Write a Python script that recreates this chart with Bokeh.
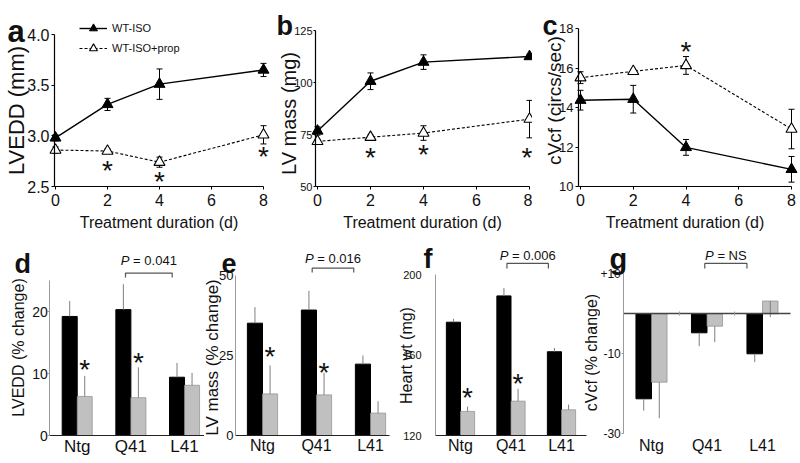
from math import pi
from bokeh.plotting import figure
from bokeh.layouts import row, column
from bokeh.models import (ColumnDataSource, Whisker, TeeHead, Legend, LegendItem,
                          Label, Range1d, FixedTicker, LinearAxis, PrintfTickFormatter)
from bokeh.core.properties import value
from bokeh.embed import file_html
from bokeh.resources import INLINE

FONT = "Liberation Sans"
TXT = "#111111"

# ---------------- data: time courses (panels a-c) ----------------
days = [0, 2, 4, 8]
day_ticks = [0, 2, 4, 6, 8]

lvedd_iso = [2.98, 3.31, 3.51, 3.65]
lvedd_iso_err = [0.03, 0.06, 0.15, 0.065]
lvedd_prop = [2.86, 2.85, 2.74, 3.01]
lvedd_prop_err = [0.03, 0.02, 0.05, 0.09]
lvedd_star_x = [2, 4, 8]
lvedd_star_y = [2.70, 2.59, 2.835]
lvedd_ticks = [2.5, 3.0, 3.5, 4.0]

lvmass_iso = [76.7, 100.6, 109.8, 112.5]
lvmass_iso_err = [2.0, 4.0, 3.5, 1.0]
lvmass_prop = [71.7, 73.7, 75.7, 82.4]
lvmass_prop_err = [1.0, 1.0, 3.5, 9.0]
lvmass_star_x = [2, 4, 7.9]
lvmass_star_y = [65.9, 67.5, 65.8]
lvmass_ticks = [50, 75, 100, 125]

cvcf_iso = [14.37, 14.42, 11.98, 10.87]
cvcf_iso_err = [0.5, 0.7, 0.4, 0.65]
cvcf_prop = [15.51, 15.83, 16.13, 12.91]
cvcf_prop_err = [0.3, 0.1, 0.45, 1.0]
cvcf_star_x = [4]
cvcf_star_y = [17.06]
cvcf_ticks = [10, 12, 14, 16, 18]

series_names = ["WT-ISO", "WT-ISO+prop"]

# ---------------- data: bar panels (d-g) ----------------
groups = ["Ntg", "Q41", "L41"]

d_iso = [19.2, 20.3, 9.4]
d_iso_err = [2.5, 4.1, 2.3]
d_prop = [6.3, 6.1, 8.1]
d_prop_err = [3.3, 4.9, 2.0]
d_star_y = [11.3, 12.4]
d_ticks = [0, 10, 20]

e_iso = [35.1, 39.2, 22.3]
e_iso_err = [5.0, 6.0, 2.7]
e_prop = [13.0, 12.7, 7.0]
e_prop_err = [8.9, 6.9, 3.7]
e_star_y = [26.0, 20.8]
e_ticks = [0, 25, 50]

f_iso = [176.4, 189.5, 161.7]
f_iso_err = [1.7, 4.0, 1.9]
f_prop = [132.0, 137.1, 132.8]
f_prop_err = [2.4, 6.1, 2.6]
f_star_y = [140.7, 148.0]
f_ticks = [120, 160, 200]

g_iso = [-21.25, -4.75, -10.0]
g_iso_err = [2.95, 3.35, 2.1]
g_prop = [-17.1, -3.1, 3.2]
g_prop_err = [9.0, 4.0, 4.05]
g_ticks = [-30, -10, 10]
g_tick_labels = ["-30", "-10", "+10"]

p_texts = ["0.041", "0.016", "0.006", "NS"]

TOP_H = 234
PAGE_H = 463


# ---------------- helpers ----------------
def lin(p0, v0, p1, v1, a, b):
    s = (v1 - v0) / (p1 - p0)
    return (v0 + (a - p0) * s, v0 + (b - p0) * s)


class Panel:
    def __init__(self, left, right, top, bottom, xmap, ymap):
        self.left, self.right, self.top, self.bottom = left, right, top, bottom
        xr = lin(*xmap, left, right)
        yr = lin(*ymap, bottom, top)
        self.x0 = xmap
        p = figure(width=right - left, height=bottom - top,
                   x_range=Range1d(*xr), y_range=Range1d(*yr),
                   output_backend="svg", toolbar_location=None, tools="",
                   min_border=0)
        p.outline_line_color = None
        p.xgrid.visible = False
        p.ygrid.visible = False
        p.background_fill_color = "white"
        p.border_fill_color = "white"
        p.axis.minor_tick_line_color = None
        p.axis.major_tick_in = 0
        p.axis.major_label_text_font = FONT
        p.axis.axis_label_text_font = FONT
        p.axis.major_label_text_color = TXT
        p.axis.axis_label_text_color = TXT
        p.axis.axis_label_text_font_style = "normal"
        self.p = p

    def xval(self, px):
        m = self.x0
        return m[1] + (px - m[0]) * (m[3] - m[1]) / (m[2] - m[0])

    def label(self, px, py, text, size, angle=0.0, bold=False, align="center",
              baseline="middle"):
        self.p.add_layout(Label(x=px - self.left, y=self.bottom - py,
                                x_units="screen", y_units="screen", text=text,
                                angle=angle, text_font=FONT, text_font_size=size,
                                text_font_style="bold" if bold else "normal",
                                text_color=TXT, text_align=align, text_baseline=baseline))

    def letter(self, px, py, text, size="27px"):
        self.label(px, py, text, size, bold=True, align="left", baseline="alphabetic")


def stars(p, xs, ys, size="28px", yoff=4):
    p.text(x=xs, y=ys, text=["*"] * len(xs), text_font=value(FONT),
           text_font_size=value(size), text_align="center",
           text_baseline="alphabetic", y_offset=yoff, text_color=TXT)


EM = {"P": 0.667, " ": 0.278, "=": 0.584, ".": 0.278, "N": 0.722, "S": 0.667}


def text_w(s, fs):
    return sum(EM.get(c, 0.556) for c in s) * fs


def bracket(p, x0, x1, y, leg, ytext, ptxt, fs=13):
    p.multi_line(xs=[[x0, x0, x1, x1]], ys=[[y - leg, y, y, y - leg]],
                 line_color="#555555", line_width=1.2)
    rest = "= " + ptxt
    wp = text_w("P", fs)
    ws = text_w(" ", fs)
    total = wp + ws + text_w(rest, fs)
    xc = (x0 + x1) / 2
    p.add_layout(Label(x=xc, y=ytext, text="P", x_offset=-total / 2, text_font=FONT,
                       text_font_size=f"{fs}px", text_font_style="italic", text_color=TXT,
                       text_align="left", text_baseline="middle"))
    p.add_layout(Label(x=xc, y=ytext, text=rest, x_offset=-total / 2 + wp + ws,
                       text_font=FONT, text_font_size=f"{fs}px", text_color=TXT,
                       text_align="left", text_baseline="middle"))


def time_panel(P, axis_px, ybase, ybounds, yticks, ytick_fs, iso, iso_err, prop, prop_err,
               sx, sy):
    p = P.p
    src = ColumnDataSource(dict(
        x=days, iso=iso, prop=prop,
        iso_hi=[v + e for v, e in zip(iso, iso_err)],
        iso_lo=[v - e for v, e in zip(iso, iso_err)],
        prop_hi=[v + e for v, e in zip(prop, prop_err)],
        prop_lo=[v - e for v, e in zip(prop, prop_err)]))
    for hi, lo in (("iso_hi", "iso_lo"), ("prop_hi", "prop_lo")):
        p.add_layout(Whisker(source=src, base="x", upper=hi, lower=lo,
                             line_color="black", line_width=1,
                             upper_head=TeeHead(size=6, line_color="black", line_width=1),
                             lower_head=TeeHead(size=6, line_color="black", line_width=1)))
    l1 = p.line("x", "iso", source=src, line_color="black", line_width=1.4)
    s1 = p.scatter("x", "iso", source=src, marker="triangle", size=11,
                   fill_color="black", line_color="black")
    l2 = p.line("x", "prop", source=src, line_color="black", line_width=1.1, line_dash="3 2")
    s2 = p.scatter("x", "prop", source=src, marker="triangle", size=11,
                   fill_color="white", line_color="black", line_width=1.1)
    stars(p, sx, sy)
    xa = P.xval(axis_px)
    p.xaxis.fixed_location = ybase
    p.xaxis.ticker = FixedTicker(ticks=day_ticks)
    p.xaxis.bounds = (xa, 8)
    p.yaxis.fixed_location = xa
    p.yaxis.ticker = FixedTicker(ticks=yticks)
    p.yaxis.bounds = ybounds
    p.axis.axis_line_color = "black"
    p.axis.axis_line_width = 1.2
    p.axis.major_tick_line_color = "black"
    p.axis.major_tick_out = 3
    p.xaxis.major_label_standoff = 4
    p.yaxis.major_label_standoff = 2
    p.xaxis.major_label_text_font_size = "16px"
    p.yaxis.major_label_text_font_size = ytick_fs
    p.xaxis.axis_label = "Treatment duration (d)"
    p.xaxis.axis_label_text_font_size = "16px"
    p.xaxis.axis_label_standoff = 5
    return (l1, s1), (l2, s2)


def bar_panel(P, ybounds, yticks, ytick_fs, xtick_fs, base, iso, iso_err, prop, prop_err,
              err_dir, xbound_end, axis_y=None):
    p = P.p
    centers = [i + 0.5 for i in range(len(groups))]
    xb = [c - 0.14 for c in centers]
    xg = [c + 0.14 for c in centers]
    p.vbar(x=xb, top=iso, bottom=base, width=0.28, fill_color="black", line_color="black")
    p.vbar(x=xg, top=prop, bottom=base, width=0.28, fill_color="#c0c0c0",
           line_color="#8c8c8c", line_width=0.7)
    p.segment(x0=xb, y0=iso, x1=xb, y1=[v + err_dir * e for v, e in zip(iso, iso_err)],
              line_color="#7f7f7f", line_width=1)
    p.segment(x0=xg, y0=prop, x1=xg, y1=[v + err_dir * e for v, e in zip(prop, prop_err)],
              line_color="#7f7f7f", line_width=1)
    p.xaxis.fixed_location = base if axis_y is None else axis_y
    p.xaxis.ticker = FixedTicker(ticks=centers)
    p.xaxis.major_label_overrides = dict(zip(centers, groups))
    p.xaxis.major_tick_line_color = None
    p.xaxis.major_tick_out = 0
    p.xaxis.major_label_standoff = 1
    p.xaxis.major_label_text_font_size = xtick_fs
    p.xaxis.axis_line_color = "#222222"
    p.xaxis.axis_line_width = 1.2
    p.xaxis.bounds = (0, xbound_end)
    p.yaxis.fixed_location = 0
    p.yaxis.ticker = FixedTicker(ticks=yticks)
    p.yaxis.bounds = ybounds
    p.yaxis.axis_line_color = "#9a9a9a"
    p.yaxis.major_tick_line_color = "#9a9a9a"
    p.yaxis.major_label_text_font_size = ytick_fs
    return xg


# ---------------- panel a ----------------
A = Panel(0, 270, 0, TOP_H, (55, 0, 263, 8), (186, 2.5, 34, 4.0))
a_iso, a_prop = time_panel(A, 54, 2.5, (2.5, 4.0), lvedd_ticks, "16px",
                           lvedd_iso, lvedd_iso_err, lvedd_prop, lvedd_prop_err,
                           lvedd_star_x, lvedd_star_y)
A.p.yaxis.formatter = PrintfTickFormatter(format="%.1f")
legend = Legend(items=[LegendItem(label=series_names[0], renderers=list(a_iso)),
                       LegendItem(label=series_names[1], renderers=list(a_prop))],
                location=(79, TOP_H - 58), orientation="vertical", glyph_width=28,
                glyph_height=20, label_height=20, label_standoff=5, spacing=0, padding=0,
                margin=0, border_line_color=None, background_fill_alpha=0,
                label_text_font=FONT, label_text_font_size="11px", label_text_color=TXT)
A.p.add_layout(legend)
A.label(16, 110, "LVEDD (mm)", "22px", angle=pi / 2)
A.letter(7, 31, "a", "31px")

# ---------------- panel b ----------------
B = Panel(270, 532, 0, TOP_H, (317, 0, 529, 8), (186, 50, 30, 125))
time_panel(B, 315, 50, (50, 125), lvmass_ticks, "11px",
           lvmass_iso, lvmass_iso_err, lvmass_prop, lvmass_prop_err,
           lvmass_star_x, lvmass_star_y)
B.p.yaxis.major_tick_out = 2
B.p.yaxis.major_label_standoff = 1
B.label(288, 113, "LV mass (mg)", "20px", angle=pi / 2)
B.letter(276, 25, "b")

# ---------------- panel c ----------------
C = Panel(532, 800, 0, TOP_H, (580, 0, 791, 8), (186, 10, 28, 18))
time_panel(C, 578, 10, (10, 18), cvcf_ticks, "13px",
           cvcf_iso, cvcf_iso_err, cvcf_prop, cvcf_prop_err,
           cvcf_star_x, cvcf_star_y)
C.label(554, 100, "cVcf (circs/sec)", "19px", angle=pi / 2)
C.letter(542, 25, "c")

# ---------------- panel d ----------------
D = Panel(0, 204, TOP_H, PAGE_H, (49.9, 0, 103.55, 1), (435, 0, 373, 10))
d_xg = bar_panel(D, (0, 25), d_ticks, "14px", "17px", 0,
                 d_iso, d_iso_err, d_prop, d_prop_err, 1, D.xval(204))
D.p.yaxis.fixed_location = D.xval(49.3)
D.p.yaxis.major_tick_out = 2
D.p.yaxis.major_label_standoff = 0
D.p.xaxis.bounds = (D.xval(49.3), D.xval(204))
stars(D.p, d_xg[:2], d_star_y)
bracket(D.p, 1.40, 2.27, 26.2, 0.7, 28.2, p_texts[0])
D.label(17.5, 347, "LVEDD (% change)", "16px", angle=pi / 2)
D.letter(14, 263, "d")

# ---------------- panel e ----------------
E = Panel(204, 398, TOP_H, PAGE_H, (235, 0, 289, 1), (435, 0, 275, 50))
e_xg = bar_panel(E, (0, 50), e_ticks, "13px", "16px", 0,
                 e_iso, e_iso_err, e_prop, e_prop_err, 1, 2.85)
E.p.yaxis.major_tick_out = 0
E.p.yaxis.major_label_standoff = 2
stars(E.p, e_xg[:2], e_star_y)
bracket(E.p, 1.42, 2.19, 52.3, 1.4, 55.3, p_texts[1])
E.label(212, 357, "LV mass (% change)", "17px", angle=pi / 2)
E.letter(221, 263, "e")

# ---------------- panel f ----------------
F = Panel(398, 600, TOP_H, PAGE_H, (434.75, 0, 485.25, 1), (435, 120, 274.3, 200))
f_xg = bar_panel(F, (120, 200), f_ticks, "11px", "16px", 120,
                 f_iso, f_iso_err, f_prop, f_prop_err, 1, 3.0)
F.p.yaxis.fixed_location = F.xval(435)
F.p.yaxis.major_tick_out = 0
F.p.yaxis.major_label_standoff = 14
stars(F.p, f_xg[:2], f_star_y)
bracket(F.p, 1.42, 2.24, 205.7, 2.6, 209.5, p_texts[2])
F.label(406, 355, "Heart wt (mg)", "16px", angle=pi / 2)
F.label(591, 352, "cVcf (% change)", "16px", angle=pi / 2)
F.letter(423, 258, "f")

# ---------------- panel g ----------------
G = Panel(600, 800, TOP_H, PAGE_H, (623.25, 0, 678.75, 1), (313.3, 0, 273.3, 10))
g_bottom = G.p.y_range.start + (PAGE_H - 435) / 4.0
bar_panel(G, (-30, 10), g_ticks, "12px", "16px", 0,
          g_iso, g_iso_err, g_prop, g_prop_err, -1, 3.0, axis_y=g_bottom)
G.p.yaxis.major_label_overrides = dict(zip(g_ticks, g_tick_labels))
G.p.yaxis.major_tick_out = 2
G.p.yaxis.major_label_standoff = 1
G.p.xaxis.axis_line_color = None
zero_axis = LinearAxis(fixed_location=0, bounds=(0, G.xval(790)),
                       ticker=FixedTicker(ticks=[1, 2]), axis_line_color="#444444",
                       axis_line_width=1.5, major_tick_line_color="#9a9a9a",
                       major_tick_out=2, major_tick_in=2, minor_tick_line_color=None,
                       major_label_text_color=None)
G.p.add_layout(zero_axis, "below")
bracket(G.p, 1.46, 2.22, 12.6, 1.3, 14.6, p_texts[3])
G.letter(609, 258, "g", "29px")

layout = column(row(A.p, B.p, C.p), row(D.p, E.p, F.p, G.p))
html = file_html(layout, INLINE, "Figure")
with open("out.html", "w") as fh:
    fh.write(html)
